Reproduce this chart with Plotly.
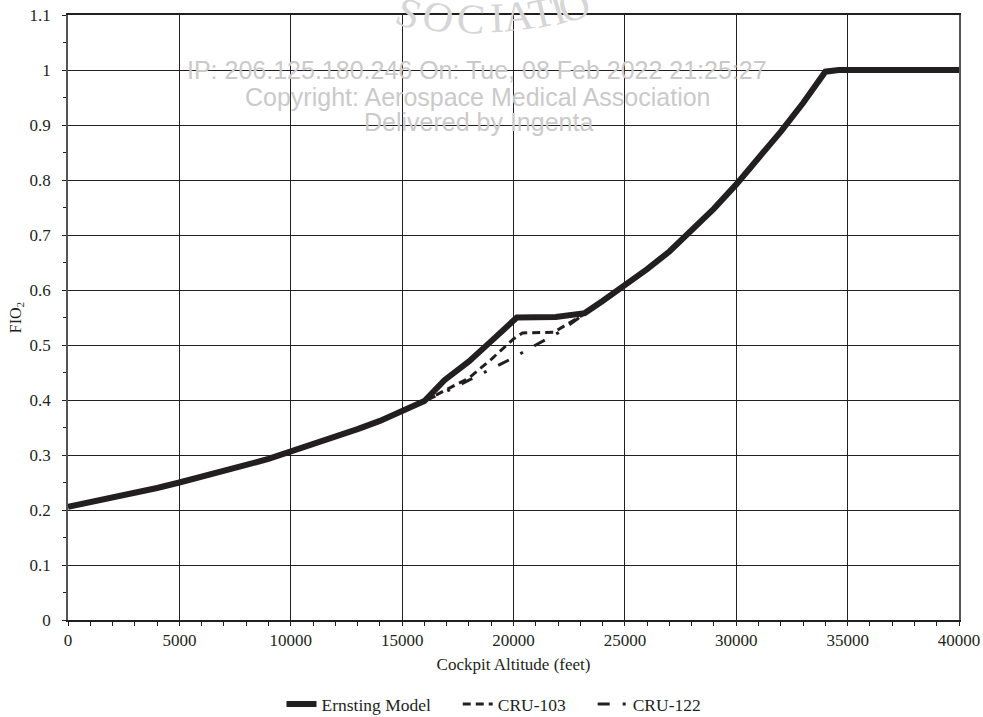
import plotly.graph_objects as go

# Ernsting Model
ern_alt = [0, 1000, 2000, 3000, 4000, 5000, 6000, 7000, 8000, 9000, 10000,
           11000, 12000, 13000, 14000, 15000, 16000, 16900, 18000, 19000, 20150,
           21900, 23200, 24000, 25000, 26000, 27000, 28000, 29000, 30000,
           31000, 32000, 33000, 34000, 34600, 40000]
ern_fio2 = [0.206, 0.214, 0.222, 0.231, 0.240, 0.250, 0.260, 0.271, 0.282, 0.293, 0.306,
            0.319, 0.332, 0.347, 0.362, 0.379, 0.398, 0.436, 0.470, 0.507, 0.550,
            0.551, 0.558, 0.580, 0.608, 0.638, 0.670, 0.708, 0.748, 0.792,
            0.838, 0.888, 0.940, 0.997, 1.0, 1.0]

# CRU-103
cru103_alt = [16000, 17000, 18000, 19000, 20000, 20400, 21800, 23200]
cru103_fio2 = [0.398, 0.419, 0.440, 0.474, 0.511, 0.522, 0.523, 0.557]

# CRU-122
cru122_alt = [16000, 17000, 18000, 19000, 20000, 21000, 22000, 23200]
cru122_fio2 = [0.398, 0.416, 0.436, 0.457, 0.477, 0.500, 0.522, 0.557]

x_ticks = [0, 5000, 10000, 15000, 20000, 25000, 30000, 35000, 40000]

FONT = "Liberation Serif, Times New Roman, serif"
INK = "#231f20"
FS = 17
W, H = 983, 717
GAP = "\u00a0" * 5

fig = go.Figure()
fig.add_trace(go.Scatter(x=ern_alt, y=ern_fio2, mode="lines", name="Ernsting Model" + GAP,
                         line=dict(color=INK, width=6)))
fig.add_trace(go.Scatter(x=cru103_alt, y=cru103_fio2, mode="lines", name="CRU-103" + GAP,
                         line=dict(color=INK, width=3, dash="8px,5px")))
fig.add_trace(go.Scatter(x=cru122_alt, y=cru122_fio2, mode="lines", name="CRU-122",
                         line=dict(color=INK, width=3, dash="12px,13px,3px,13px")))

PL, PR, PT, PB = 68, 959, 15, 620


def px(xp, yp):
    return (xp - PL) / (PR - PL), (PB - yp) / (PB - PT)


SANS = "Liberation Sans, Arial, sans-serif"
watermark = [
    ("IP: 206.125.180.246 On: Tue, 08 Feb 2022 21:25:27", 477, 70),
    ("Copyright: Aerospace Medical Association", 478, 97),
    ("Delivered by Ingenta", 478, 122),
]
for txt, xp, yp in watermark:
    ax_, ay_ = px(xp, yp)
    fig.add_annotation(text=txt, xref="paper", yref="paper", x=ax_, y=ay_,
                       showarrow=False, xanchor="center", yanchor="middle",
                       font=dict(family=SANS, size=25, color="#cacaca"))

# arc of the society logo watermark at the top (letter, x px, y px, angle)
logo_letters = [("S", 408, 13, 20), ("O", 438, 17, 14), ("C", 471, 19, 5),
                ("I", 497, 18, -2), ("A", 518, 16, -7), ("T", 542, 13, -13),
                ("I", 558, 10, -17), ("O", 574, 6, -22)]
for ch, xp, yp, ang in logo_letters:
    ax_, ay_ = px(xp, yp)
    fig.add_annotation(text=ch, xref="paper", yref="paper", x=ax_, y=ay_,
                       showarrow=False, xanchor="center", yanchor="middle",
                       textangle=ang,
                       font=dict(family=FONT, size=42, color="#d6d6d6"))

fig.update_layout(
    width=W, height=H,
    margin=dict(l=PL, r=W - PR, t=PT, b=H - PB),
    paper_bgcolor="white", plot_bgcolor="white",
    font=dict(family=FONT, size=FS, color=INK),
    showlegend=True,
    legend=dict(orientation="h", xref="paper", yref="container",
                x=(494 - PL) / (PR - PL), xanchor="center",
                y=(H - 704) / H, yanchor="middle",
                font=dict(family=FONT, size=17.5, color=INK),
                tracegroupgap=0, borderwidth=0),
)
fig.update_xaxes(
    range=[0, 40000], tickvals=x_ticks, ticktext=[str(v) for v in x_ticks],
    showgrid=True, gridcolor=INK, gridwidth=1,
    showline=True, linecolor=INK, linewidth=1.5, mirror=True,
    ticks="outside", ticklen=4, tickcolor=INK, ticklabelstandoff=0,
    minor=dict(dtick=1000, ticks="outside", ticklen=4, tickcolor=INK, showgrid=False),
    zeroline=False, automargin=False,
    title=dict(text="Cockpit Altitude (feet)", font=dict(family=FONT, size=FS), standoff=9),
    tickfont=dict(family=FONT, size=FS),
)
fig.update_yaxes(
    range=[0, 1.1], dtick=0.1, tick0=0,
    showgrid=True, gridcolor=INK, gridwidth=1,
    showline=True, linecolor="#555555", linewidth=1.5, mirror=True,
    ticks="outside", ticklen=4, tickcolor=INK, ticklabelstandoff=8,
    minor=dict(dtick=0.05, ticks="outside", ticklen=3, tickcolor=INK, showgrid=False),
    zeroline=False, automargin=False,
    title=dict(text="FIO<sub>2</sub>", font=dict(family=FONT, size=FS - 1), standoff=4),
    tickfont=dict(family=FONT, size=FS),
)

fig.write_html("out.html", config={"displayModeBar": False},
               post_script="document.body.style.margin='0';")
